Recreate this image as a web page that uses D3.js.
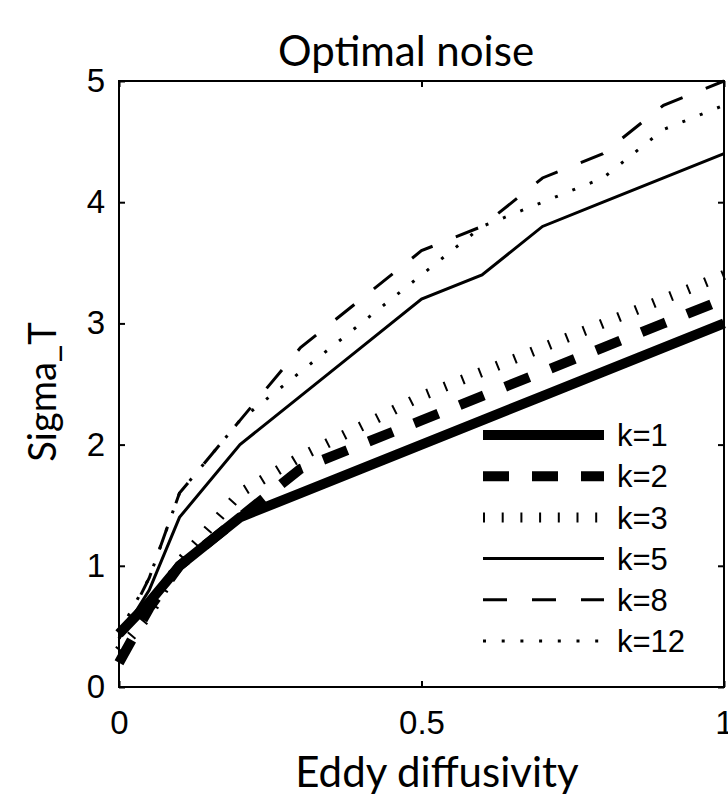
<!DOCTYPE html>
<html>
<head>
<meta charset="utf-8">
<script src="https://cdn.jsdelivr.net/npm/d3@7"></script>
<style>
  body { margin: 0; background: #fff; }
  .tick text { font-family: "Liberation Sans", Arial, sans-serif; }
</style>
</head>
<body>
<div id="chart"></div>
<script>
// data
var diffusivity = [0, 0.05, 0.1, 0.2, 0.3, 0.4, 0.5, 0.6, 0.7, 0.8, 0.9, 1.0];
var k1  = [0.44, 0.7, 1.0, 1.4, 1.6, 1.8, 2.0, 2.2, 2.4, 2.6, 2.8, 3.0];
var k2  = [0.2, 0.65, 1.0, 1.4, 1.8, 2.0, 2.2, 2.4, 2.6, 2.8, 3.0, 3.2];
var k3  = [0.3, 0.6, 1.03, 1.6, 1.9, 2.15, 2.4, 2.6, 2.8, 3.0, 3.2, 3.4];
var k5  = [0.4, 0.8, 1.4, 2.0, 2.4, 2.8, 3.2, 3.4, 3.8, 4.0, 4.2, 4.4];
var k8  = [0.4, 0.9, 1.6, 2.2, 2.8, 3.2, 3.6, 3.8, 4.2, 4.4, 4.8, 5.0];
var k12 = [0.45, 0.9, 1.6, 2.2, 2.6, 3.0, 3.4, 3.8, 4.0, 4.2, 4.6, 4.8];
var seriesNames = ["k=1", "k=2", "k=3", "k=5", "k=8", "k=12"];
var xTicks = [0, 0.5, 1];
var yTicks = [0, 1, 2, 3, 4, 5];

// line styles (MATLAB look)
var styles = [
  { width: 10, dash: null },
  { width: 10, dash: "26,23" },
  { width: 10, dash: "2,16.7" },
  { width: 3, dash: null },
  { width: 3, dash: "24,25" },
  { width: 3, dash: "3,15.7" }
];

var series = [k1, k2, k3, k5, k8, k12].map(function (vals, i) {
  return {
    name: seriesNames[i],
    style: styles[i],
    values: vals.map(function (v, j) { return { x: diffusivity[j], y: v }; })
  };
});

// set the dimensions and margins of the graph
var margin = { top: 81, right: 4, bottom: 114, left: 119 },
  W = 728, H = 801,
  width = W - margin.left - margin.right,
  height = H - margin.top - margin.bottom;

var svg = d3.select("#chart")
  .append("svg")
  .attr("width", W)
  .attr("height", H);

var g = svg.append("g")
  .attr("transform", "translate(" + margin.left + "," + margin.top + ")");

var x = d3.scaleLinear().domain([0, 1]).range([0, width]);
var y = d3.scaleLinear().domain([0, 5]).range([height, 0]);

///////////////////////////////////////////////////////////////
// axes, ticks inward and mirrored
var fmt = function (d) { return d3.format("")(d); };

var xb = g.append("g")
  .attr("transform", "translate(0," + height + ")")
  .call(d3.axisBottom(x).tickValues(xTicks).tickFormat(fmt)
    .tickSizeInner(-6).tickSizeOuter(0).tickPadding(24));
var xt = g.append("g")
  .call(d3.axisTop(x).tickValues(xTicks).tickFormat("")
    .tickSizeInner(-6).tickSizeOuter(0));
var yl = g.append("g")
  .call(d3.axisLeft(y).tickValues(yTicks).tickFormat(fmt)
    .tickSizeInner(-6).tickSizeOuter(0).tickPadding(14));
var yr = g.append("g")
  .attr("transform", "translate(" + width + ",0)")
  .call(d3.axisRight(y).tickValues(yTicks).tickFormat("")
    .tickSizeInner(-6).tickSizeOuter(0));

[xb, xt, yl, yr].forEach(function (a) {
  a.select(".domain").remove();
  a.selectAll(".tick line").attr("stroke", "#000").attr("stroke-width", 2);
  a.selectAll(".tick text").attr("fill", "#000").style("font-size", "33px");
});

///////////////////////////////////////////////////////////////
// the curves
var line = d3.line()
  .x(function (d) { return x(d.x); })
  .y(function (d) { return y(d.y); });

g.selectAll(".curve")
  .data(series)
  .enter()
  .append("path")
  .attr("class", "curve")
  .attr("d", function (d) { return line(d.values); })
  .attr("fill", "none")
  .attr("stroke", "#000")
  .attr("stroke-width", function (d) { return d.style.width; })
  .attr("stroke-dasharray", function (d) { return d.style.dash; })
  .attr("stroke-linejoin", "miter")
  .attr("stroke-linecap", "butt");

// frame
g.append("rect")
  .attr("x", 0).attr("y", 0)
  .attr("width", width).attr("height", height)
  .attr("fill", "none")
  .attr("stroke", "#000")
  .attr("stroke-width", 2);

///////////////////////////////////////////////////////////////
// legend (no box)
var legX = width - 241, legY = 354, legStep = 41.2, legLen = 121;
var leg = g.selectAll(".leg")
  .data(series)
  .enter()
  .append("g")
  .attr("class", "leg")
  .attr("transform", function (d, i) { return "translate(" + legX + "," + (legY + i * legStep) + ")"; });

leg.append("line")
  .attr("x1", 0).attr("x2", legLen)
  .attr("y1", 0).attr("y2", 0)
  .attr("stroke", "#000")
  .attr("stroke-width", function (d) { return d.style.width; })
  .attr("stroke-dasharray", function (d) { return d.style.dash; });

leg.append("text")
  .attr("x", legLen + 13)
  .attr("y", 0)
  .attr("dy", "0.36em")
  .style("font-family", "'Liberation Sans', Arial, sans-serif")
  .style("font-size", "31px")
  .text(function (d) { return d.name; });

///////////////////////////////////////////////////////////////
// titles
svg.append("text")
  .attr("x", 406)
  .attr("y", 66)
  .attr("text-anchor", "middle")
  .style("font-family", "Lato, sans-serif")
  .style("font-size", "42px")
  .text("Optimal noise");

svg.append("text")
  .attr("x", 437)
  .attr("y", 787)
  .attr("text-anchor", "middle")
  .style("font-family", "Lato, sans-serif")
  .style("font-size", "42px")
  .text("Eddy diffusivity");

svg.append("text")
  .attr("transform", "translate(56,392)rotate(-90)")
  .attr("text-anchor", "middle")
  .style("font-family", "Lato, sans-serif")
  .style("font-size", "38px")
  .text("Sigma_T");
</script>
</body>
</html>
